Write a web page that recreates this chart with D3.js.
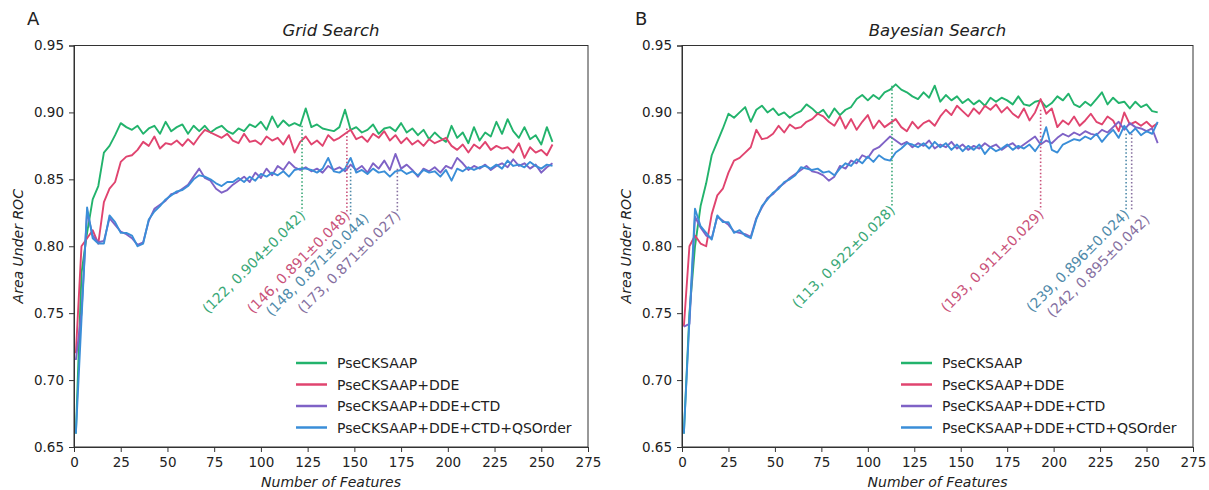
<!DOCTYPE html>
<html>
<head>
<meta charset="utf-8">
<script src="https://cdn.jsdelivr.net/npm/d3@7"></script>
<style>
  body { margin: 0; background: #fff; }
  text { font-family: "DejaVu Sans", sans-serif; }
</style>
</head>
<body>
<div id="chart"></div>
<script>
// number of features, sampled every 3rd model (1, 4, 7, ... 256)
var features = d3.range(1, 257, 3);

var seriesNames = ["PseCKSAAP", "PseCKSAAP+DDE", "PseCKSAAP+DDE+CTD", "PseCKSAAP+DDE+CTD+QSOrder"];
var seriesColors = ["#22b36c", "#e0446f", "#7f62c6", "#3a8ed8"];
var noteColors = ["#3aa877", "#c9527a", "#86709f", "#4f8aaa"];

var xTicks = [0, 25, 50, 75, 100, 125, 150, 175, 200, 225, 250, 275];
var yTicks = [0.65, 0.70, 0.75, 0.80, 0.85, 0.90, 0.95];

// ---- A: grid search ----
var gridPse = [
  0.66,0.78,0.81,0.835,0.845,0.87,0.875,0.883,0.892,0.889,
  0.887,0.890,0.884,0.888,0.890,0.884,0.893,0.886,0.889,0.891,
  0.884,0.890,0.886,0.890,0.885,0.888,0.890,0.886,0.884,0.888,
  0.886,0.891,0.889,0.893,0.887,0.897,0.889,0.894,0.890,0.892,
  0.890,0.903,0.889,0.891,0.888,0.887,0.886,0.889,0.902,0.887,
  0.889,0.885,0.887,0.891,0.884,0.888,0.889,0.886,0.892,0.885,
  0.888,0.883,0.887,0.880,0.885,0.881,0.878,0.890,0.881,0.885,
  0.877,0.889,0.879,0.885,0.882,0.893,0.884,0.895,0.886,0.881,
  0.889,0.880,0.883,0.876,0.889,0.878];
var gridDde = [
  0.72,0.80,0.806,0.812,0.802,0.833,0.843,0.848,0.863,0.867,
  0.868,0.872,0.878,0.875,0.882,0.873,0.877,0.876,0.879,0.875,
  0.880,0.876,0.882,0.887,0.885,0.883,0.881,0.884,0.879,0.877,
  0.884,0.878,0.879,0.876,0.882,0.879,0.881,0.876,0.883,0.870,
  0.878,0.882,0.876,0.879,0.875,0.883,0.879,0.881,0.884,0.887,
  0.880,0.882,0.878,0.884,0.881,0.886,0.879,0.883,0.877,0.881,
  0.876,0.879,0.875,0.880,0.877,0.879,0.881,0.875,0.872,0.876,
  0.870,0.876,0.873,0.878,0.872,0.875,0.873,0.874,0.870,0.877,
  0.866,0.874,0.870,0.872,0.868,0.876];
var gridCtd = [
  0.715,0.75,0.826,0.808,0.803,0.804,0.821,0.816,0.811,0.809,
  0.806,0.801,0.803,0.819,0.828,0.831,0.834,0.839,0.840,0.843,
  0.846,0.852,0.858,0.851,0.849,0.843,0.840,0.842,0.846,0.849,
  0.852,0.848,0.855,0.851,0.858,0.853,0.860,0.857,0.863,0.859,
  0.857,0.859,0.856,0.858,0.855,0.860,0.857,0.859,0.856,0.861,
  0.857,0.860,0.855,0.862,0.858,0.864,0.857,0.869,0.858,0.861,
  0.857,0.852,0.858,0.856,0.859,0.855,0.860,0.858,0.866,0.862,
  0.857,0.860,0.858,0.861,0.857,0.860,0.862,0.859,0.865,0.860,
  0.862,0.858,0.861,0.855,0.859,0.862];
var gridQso = [
  0.66,0.745,0.829,0.806,0.802,0.802,0.823,0.818,0.810,0.810,
  0.808,0.800,0.802,0.820,0.826,0.830,0.835,0.838,0.841,0.842,
  0.845,0.850,0.853,0.852,0.850,0.847,0.845,0.848,0.848,0.851,
  0.848,0.852,0.849,0.854,0.852,0.855,0.853,0.856,0.852,0.857,
  0.858,0.858,0.857,0.855,0.858,0.866,0.856,0.855,0.858,0.866,
  0.855,0.857,0.854,0.858,0.855,0.856,0.852,0.856,0.857,0.854,
  0.856,0.853,0.857,0.855,0.856,0.852,0.857,0.849,0.858,0.856,
  0.859,0.857,0.859,0.860,0.858,0.861,0.858,0.864,0.860,0.861,
  0.859,0.863,0.860,0.858,0.861,0.860];

// best-point notes: feature, label, series, dotted line from top to bottom, label end
var gridNoteX = [122, 146, 148, 173];
var gridNoteText = ["(122, 0.904\u00b10.042)", "(146, 0.891\u00b10.048)", "(148, 0.871\u00b10.044)", "(173, 0.871\u00b10.027)"];
var gridNoteSeries = [0, 1, 3, 2];
var gridNoteTop = [0.890, 0.888, 0.858, 0.858];
var gridNoteBottom = [0.826, 0.826, 0.823, 0.826];
var gridNoteTextX = [122, 146, 156, 173];
var gridNoteTextY = [0.826, 0.826, 0.824, 0.826];

// ---- B: bayesian search ----
var bayesPse = [
  0.66,0.75,0.80,0.83,0.847,0.868,0.878,0.888,0.899,0.896,
  0.900,0.904,0.893,0.902,0.905,0.900,0.903,0.898,0.900,0.896,
  0.899,0.901,0.906,0.903,0.899,0.902,0.896,0.903,0.898,0.902,
  0.904,0.910,0.913,0.909,0.913,0.910,0.915,0.917,0.921,0.917,
  0.915,0.912,0.910,0.915,0.911,0.920,0.908,0.913,0.909,0.912,
  0.907,0.910,0.906,0.909,0.905,0.911,0.908,0.911,0.909,0.906,
  0.912,0.906,0.905,0.908,0.909,0.904,0.907,0.912,0.909,0.914,
  0.906,0.904,0.908,0.905,0.910,0.915,0.906,0.911,0.907,0.908,
  0.903,0.908,0.904,0.906,0.901,0.900];
var bayesDde = [
  0.74,0.80,0.808,0.802,0.800,0.824,0.838,0.843,0.855,0.864,
  0.866,0.870,0.874,0.887,0.880,0.881,0.884,0.890,0.885,0.891,
  0.888,0.889,0.893,0.895,0.899,0.897,0.893,0.890,0.897,0.888,
  0.895,0.887,0.893,0.898,0.888,0.894,0.889,0.892,0.895,0.889,
  0.886,0.893,0.888,0.892,0.894,0.890,0.897,0.902,0.898,0.905,
  0.901,0.897,0.903,0.899,0.905,0.902,0.906,0.900,0.904,0.899,
  0.896,0.903,0.894,0.900,0.910,0.899,0.903,0.889,0.894,0.891,
  0.897,0.890,0.894,0.899,0.893,0.891,0.897,0.894,0.886,0.900,
  0.891,0.893,0.890,0.893,0.889,0.892];
var bayesCtd = [
  0.74,0.742,0.822,0.814,0.808,0.806,0.822,0.819,0.816,0.811,
  0.810,0.809,0.807,0.821,0.829,0.836,0.839,0.844,0.847,0.851,
  0.854,0.857,0.860,0.856,0.855,0.853,0.849,0.852,0.860,0.858,
  0.864,0.862,0.868,0.866,0.872,0.874,0.878,0.882,0.879,0.876,
  0.878,0.874,0.877,0.875,0.879,0.873,0.876,0.874,0.878,0.873,
  0.876,0.872,0.875,0.873,0.877,0.874,0.876,0.872,0.875,0.877,
  0.873,0.876,0.879,0.882,0.876,0.879,0.877,0.881,0.884,0.882,
  0.885,0.883,0.886,0.884,0.883,0.887,0.885,0.889,0.893,0.887,
  0.892,0.889,0.888,0.886,0.888,0.877];
var bayesQso = [
  0.66,0.745,0.828,0.815,0.810,0.805,0.823,0.818,0.818,0.810,
  0.812,0.808,0.806,0.820,0.830,0.835,0.840,0.843,0.848,0.850,
  0.853,0.859,0.858,0.857,0.858,0.855,0.856,0.853,0.858,0.862,
  0.860,0.865,0.862,0.867,0.863,0.868,0.865,0.864,0.870,0.873,
  0.877,0.876,0.874,0.877,0.873,0.878,0.874,0.877,0.872,0.876,
  0.871,0.875,0.872,0.876,0.869,0.874,0.871,0.873,0.876,0.872,
  0.875,0.873,0.876,0.871,0.877,0.889,0.872,0.870,0.876,0.878,
  0.880,0.879,0.882,0.880,0.884,0.878,0.883,0.887,0.881,0.890,
  0.884,0.888,0.883,0.886,0.884,0.893];

var bayesNoteX = [113, 193, 239, 242];
var bayesNoteText = ["(113, 0.922\u00b10.028)", "(193, 0.911\u00b10.029)", "(239, 0.896\u00b10.024)", "(242, 0.895\u00b10.042)"];
var bayesNoteSeries = [0, 1, 3, 2];
var bayesNoteTop = [0.920, 0.902, 0.884, 0.884];
var bayesNoteBottom = [0.830, 0.827, 0.827, 0.826];
var bayesNoteTextX = [113, 193, 239, 250];
var bayesNoteTextY = [0.830, 0.827, 0.827, 0.823];

var width = 1209, height = 490;
var plotTop = 45.5, plotBottom = 447;

var svg = d3.select("#chart").append("svg")
    .attr("width", width)
    .attr("height", height);

var panels = [
  {letter: "A", title: "Grid Search", left: 74, right: 588,
   series: [gridPse, gridDde, gridCtd, gridQso],
   noteX: gridNoteX, noteText: gridNoteText, noteSeries: gridNoteSeries,
   noteTop: gridNoteTop, noteBottom: gridNoteBottom, noteTextX: gridNoteTextX, noteTextY: gridNoteTextY},
  {letter: "B", title: "Bayesian Search", left: 682, right: 1193,
   series: [bayesPse, bayesDde, bayesCtd, bayesQso],
   noteX: bayesNoteX, noteText: bayesNoteText, noteSeries: bayesNoteSeries,
   noteTop: bayesNoteTop, noteBottom: bayesNoteBottom, noteTextX: bayesNoteTextX, noteTextY: bayesNoteTextY}
];

panels.forEach(drawPanel);

function drawPanel(p) {
  var x = d3.scaleLinear().domain([0, 275]).range([p.left, p.right]);
  var y = d3.scaleLinear().domain([0.65, 0.95]).range([plotBottom, plotTop]);
  var mid = (p.left + p.right) / 2;
  var g = svg.append("g");

  // curves, blue drawn last so it sits on top
  var line = d3.line()
      .x(function(d, i) { return x(features[i]); })
      .y(function(d) { return y(d); });

  p.series.forEach(function(s, k) {
    g.append("path")
      .datum(s)
      .attr("fill", "none")
      .attr("stroke", seriesColors[k])
      .attr("stroke-width", 1.9)
      .attr("stroke-linejoin", "round")
      .attr("d", line);
  });

  // dotted markers and rotated labels
  p.noteX.forEach(function(nx, i) {
    var k = p.noteSeries[i];
    g.append("line")
      .attr("x1", x(nx)).attr("x2", x(nx))
      .attr("y1", y(p.noteTop[i])).attr("y2", y(p.noteBottom[i]))
      .attr("stroke", noteColors[k])
      .attr("stroke-width", 1.6)
      .attr("stroke-dasharray", "1.5,2.2");
    g.append("text")
      .attr("transform", "translate(" + (x(p.noteTextX[i]) + 4) + "," + (y(p.noteTextY[i]) + 5) + ") rotate(-45)")
      .attr("text-anchor", "end")
      .attr("fill", noteColors[k])
      .style("font-size", "14px")
      .text(p.noteText[i]);
  });

  // axes
  var xAxis = g.append("g")
      .attr("transform", "translate(0," + plotBottom + ")")
      .call(d3.axisBottom(x).tickValues(xTicks).tickSize(5).tickPadding(5).tickFormat(d3.format("d")));
  var yAxis = g.append("g")
      .attr("transform", "translate(" + p.left + ",0)")
      .call(d3.axisLeft(y).tickValues(yTicks).tickSize(5).tickPadding(5).tickFormat(d3.format(".2f")));

  [xAxis, yAxis].forEach(function(a) {
    a.attr("font-family", "DejaVu Sans, sans-serif").attr("font-size", 13.5);
    a.selectAll("path, line").attr("stroke", "#333");
    a.selectAll("text").attr("fill", "#222");
  });

  // frame
  g.append("rect")
    .attr("x", p.left).attr("y", plotTop)
    .attr("width", p.right - p.left).attr("height", plotBottom - plotTop)
    .attr("fill", "none")
    .attr("stroke", "#333")
    .attr("stroke-width", 1);

  // titles
  g.append("text")
    .attr("x", mid).attr("y", 36)
    .attr("text-anchor", "middle")
    .style("font-size", "16.5px").style("font-style", "italic")
    .attr("fill", "#222")
    .text(p.title);
  g.append("text")
    .attr("x", p.left - 47).attr("y", 25)
    .style("font-size", "18px")
    .attr("fill", "#222")
    .text(p.letter);
  g.append("text")
    .attr("x", mid).attr("y", 487)
    .attr("text-anchor", "middle")
    .style("font-size", "14px").style("font-style", "italic")
    .attr("fill", "#222")
    .text("Number of Features");
  g.append("text")
    .attr("transform", "translate(" + (p.left - 51) + "," + ((plotTop + plotBottom) / 2) + ") rotate(-90)")
    .attr("text-anchor", "middle")
    .style("font-size", "14px").style("font-style", "italic")
    .attr("fill", "#222")
    .text("Area Under ROC");

  // legend
  var leg = g.append("g");
  seriesNames.forEach(function(name, k) {
    var ly = 363 + k * 21.5;
    leg.append("line")
      .attr("x1", p.right - 292).attr("x2", p.right - 261)
      .attr("y1", ly).attr("y2", ly)
      .attr("stroke", seriesColors[k])
      .attr("stroke-width", 2.5);
    leg.append("text")
      .attr("x", p.right - 251).attr("y", ly + 5)
      .style("font-size", "14px")
      .attr("fill", "#222")
      .text(name);
  });
}
</script>
</body>
</html>
